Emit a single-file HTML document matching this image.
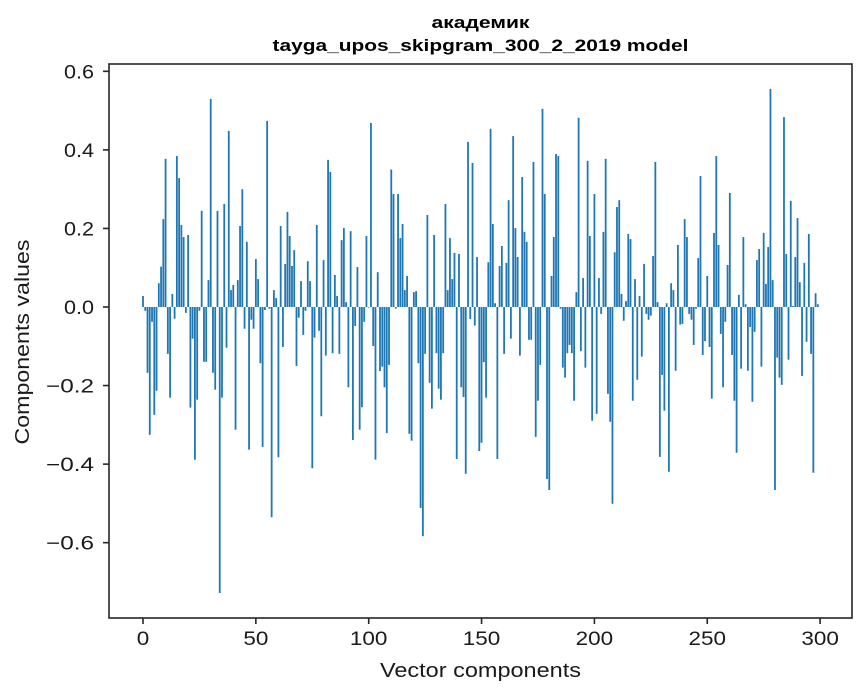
<!DOCTYPE html>
<html><head><meta charset="utf-8"><style>
html,body{margin:0;padding:0;background:#fff;}
svg{display:block;font-family:"Liberation Sans","DejaVu Sans",sans-serif;}
</style></head><body>
<svg id="s" width="867" height="696" viewBox="0 0 867 696" xmlns="http://www.w3.org/2000/svg">
<rect width="867" height="696" fill="#fff"/>
<g id="bars" fill="#1f77b4"></g>
<rect x="109" y="64" width="743" height="554" fill="none" stroke="#262626" stroke-width="1.6"/>
<g id="ticks" stroke="#262626" stroke-width="1.6"></g>
<g id="labels" fill="#1a1a1a" font-size="19"></g>
<text x="480.5" y="28" text-anchor="middle" font-size="17" font-weight="bold" textLength="98" lengthAdjust="spacingAndGlyphs">академик</text>
<text x="480.5" y="51" text-anchor="middle" font-size="17" font-weight="bold" textLength="416" lengthAdjust="spacingAndGlyphs">tayga_upos_skipgram_300_2_2019 model</text>
<text x="480.5" y="677" text-anchor="middle" font-size="20" fill="#1a1a1a" textLength="201" lengthAdjust="spacingAndGlyphs">Vector components</text>
<text transform="translate(29,342) rotate(-90)" text-anchor="middle" font-size="20" fill="#1a1a1a" textLength="205" lengthAdjust="spacingAndGlyphs">Components values</text>
</svg>
<script>
var h=[32,-11,-191,-371,-43,-313,-243,69,117,255,430,-136,-263,38,-34,438,374,238,203,-17,209,-292,-92,-443,-269,-11,279,-159,-159,78,604,-191,-240,279,-830,-263,299,-118,511,49,64,-356,78,235,342,-63,189,-414,-37,-63,139,
81,-163,-406,-9,540,-5,-610,49,26,-436,235,-116,125,276,206,119,165,-171,-31,75,-81,-11,133,75,-468,-89,238,-69,-317,136,-141,427,392,-134,93,32,-136,194,229,14,-233,220,-386,-55,116,-356,-291,-43,206,-2,534,
-113,-443,101,-186,-173,-233,-366,-168,399,328,-5,328,200,241,49,90,-368,-388,43,46,-163,-583,-665,-136,267,-220,-295,209,-134,-237,-269,-134,299,49,200,81,157,-441,154,-233,-261,-484,479,-35,418,-54,145,-418,-394,-160,-263,130,517,
241,11,-441,119,177,-136,128,310,-92,496,229,145,-141,377,218,189,-95,-95,421,-377,-272,-168,575,328,-499,-531,90,203,444,438,-5,-176,-205,-134,-110,-134,-272,43,549,-128,84,-176,424,206,-330,328,-310,84,-20,218,430,-252,
-333,-571,159,290,310,38,-40,17,212,197,-272,81,-211,32,-144,125,-20,-37,-25,148,421,14,-435,-197,-301,11,-478,69,49,-185,180,-51,-49,255,203,-20,-37,-110,-5,142,380,-139,-99,90,-116,-266,215,438,180,-78,-233,-43,
122,331,-139,-272,-423,35,-179,203,8,-185,-58,-275,-72,136,168,-173,215,67,174,633,78,-531,-147,-205,-226,551,154,-153,308,3,145,258,72,-200,128,-101,212,-136,-481,40,8];
var NS="http://www.w3.org/2000/svg",g=document.getElementById("bars"),k=0.3446;
for(var i=0;i<h.length;i++){var r=document.createElementNS(NS,"rect");var x=143+2.257*i-0.9;var v=h[i]*k;
r.setAttribute("x",x.toFixed(2));r.setAttribute("width","1.8");
if(v>=0){r.setAttribute("y",(307-v).toFixed(2));r.setAttribute("height",v.toFixed(2));}else{r.setAttribute("y","307");r.setAttribute("height",(-v).toFixed(2));}
g.appendChild(r);}
var t=document.getElementById("ticks"),L=document.getElementById("labels");
function ln(x1,y1,x2,y2){var l=document.createElementNS(NS,"line");l.setAttribute("x1",x1);l.setAttribute("y1",y1);l.setAttribute("x2",x2);l.setAttribute("y2",y2);t.appendChild(l);}
function tx(x,y,s,a,w){var e=document.createElementNS(NS,"text");e.setAttribute("x",x);e.setAttribute("y",y);e.setAttribute("text-anchor",a);e.setAttribute("textLength",w);e.setAttribute("lengthAdjust","spacingAndGlyphs");e.textContent=s;L.appendChild(e);}
[0.6,0.4,0.2,0,-0.2,-0.4,-0.6].forEach(function(v){var y=307-v*392.8;ln(103,y,109,y);tx(94,y+7,(v<0?"\u2212":"")+Math.abs(v).toFixed(1),"end",v<0?48:30);});
[0,50,100,150,200,250,300].forEach(function(v){var x=143+2.257*v;ln(x,618,x,624);var s=String(v);tx(x,645,s,"middle",s.length*12.5);});
</script>
</body></html>
